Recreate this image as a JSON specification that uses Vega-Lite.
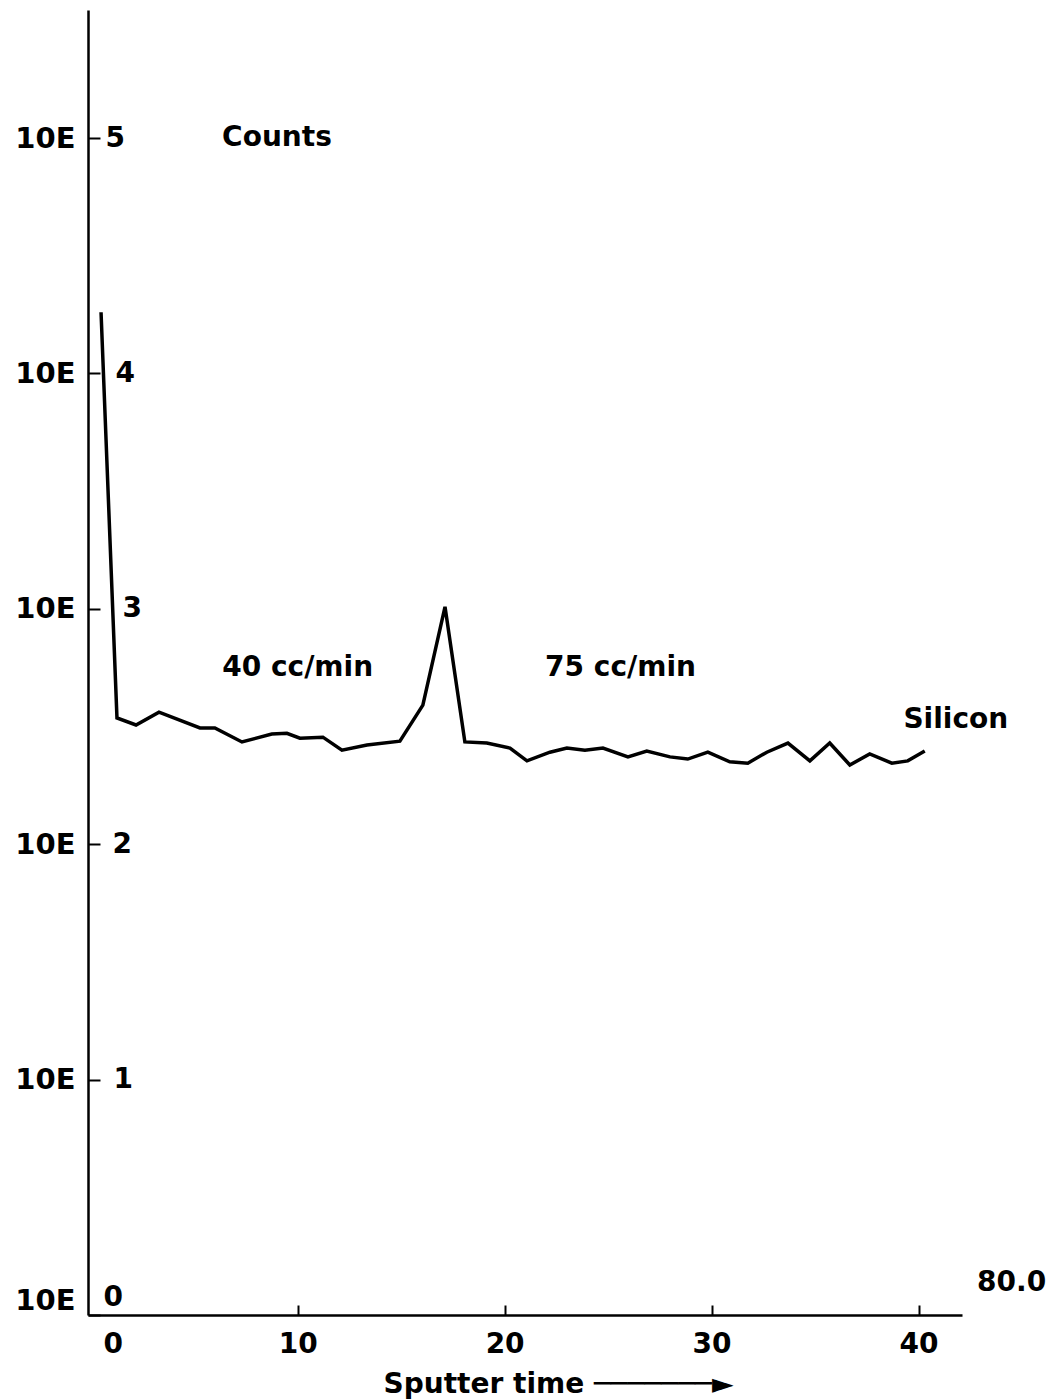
{
  "$schema": "https://vega.github.io/schema/vega-lite/v6.json",
  "autosize": {"type": "none"},
  "padding": {"left": 88, "top": 10, "right": 92, "bottom": 85},
  "width": 874,
  "height": 1305,
  "background": "white",
  "config": {
    "view": {"stroke": null},
    "font": "DejaVu Sans",
    "axis": {"grid": false, "labelColor": "black", "titleColor": "black", "labelFont": "DejaVu Sans", "titleFont": "DejaVu Sans", "labelFontWeight": "bold", "titleFontWeight": "bold"}
  },
  "datasets": {
    "silicon": [
      {"t": 0.5, "counts": 18200},
      {"t": 1.27, "counts": 344},
      {"t": 2.19, "counts": 321},
      {"t": 3.3, "counts": 364},
      {"t": 5.28, "counts": 312},
      {"t": 6.0, "counts": 312},
      {"t": 7.31, "counts": 272},
      {"t": 8.75, "counts": 294},
      {"t": 9.48, "counts": 296},
      {"t": 10.11, "counts": 282},
      {"t": 11.22, "counts": 285},
      {"t": 12.14, "counts": 251},
      {"t": 13.35, "counts": 264},
      {"t": 14.94, "counts": 274},
      {"t": 16.05, "counts": 390},
      {"t": 17.12, "counts": 1020},
      {"t": 18.08, "counts": 272},
      {"t": 19.14, "counts": 269},
      {"t": 20.26, "counts": 256},
      {"t": 21.08, "counts": 226},
      {"t": 22.19, "counts": 246},
      {"t": 23.01, "counts": 256},
      {"t": 23.88, "counts": 251},
      {"t": 24.75, "counts": 256},
      {"t": 25.96, "counts": 235},
      {"t": 26.87, "counts": 249},
      {"t": 27.99, "counts": 235},
      {"t": 28.85, "counts": 230},
      {"t": 29.82, "counts": 246},
      {"t": 30.88, "counts": 224},
      {"t": 31.75, "counts": 221},
      {"t": 32.67, "counts": 246},
      {"t": 33.69, "counts": 269},
      {"t": 34.75, "counts": 226},
      {"t": 35.71, "counts": 269},
      {"t": 36.68, "counts": 217},
      {"t": 37.64, "counts": 242},
      {"t": 38.71, "counts": 221},
      {"t": 39.48, "counts": 226},
      {"t": 40.3, "counts": 249}
    ],
    "notes": [
      {"t": 9.0, "counts": 100000, "label": "Counts"},
      {"t": 10.0, "counts": 561, "label": "40 cc/min"},
      {"t": 25.6, "counts": 561, "label": "75 cc/min"},
      {"t": 41.8, "counts": 337, "label": "Silicon"},
      {"t": 44.5, "counts": 1.37, "label": "80.0"}
    ]
  },
  "layer": [
    {
      "data": {"name": "silicon"},
      "mark": {"type": "line", "color": "black", "strokeWidth": 3.5, "strokeJoin": "miter"},
      "encoding": {
        "x": {
          "field": "t",
          "type": "quantitative",
          "scale": {"domain": [-0.13, 42.1], "nice": false, "zero": false},
          "axis": {
            "values": [0, 10, 20, 30, 40],
            "format": "d",
            "labelFlush": false,
            "domainColor": "black",
            "domainWidth": 2.5,
            "tickColor": "black",
            "tickWidth": 2,
            "tickSize": -10,
            "tickOpacity": {"condition": {"test": "datum.value === 0", "value": 0}, "value": 1},
            "labelFontSize": 28,
            "labelPadding": 25,
            "labelBaseline": "top",
            "labelOffset": {"condition": {"test": "datum.value === 0", "value": 22}, "value": 0},
            "title": "Sputter time ───────►",
            "titleFontSize": 28,
            "titleAlign": "center",
            "titleBaseline": "middle",
            "titleX": 470,
            "titleY": 69
          }
        },
        "y": {
          "field": "counts",
          "type": "quantitative",
          "scale": {"type": "log", "domain": [1, 350000], "nice": false},
          "axis": {
            "orient": "left",
            "values": [1, 10, 100, 1000, 10000, 100000],
            "labelExpr": "'10E'",
            "labelFlush": false,
            "ticks": false,
            "domain": true,
            "domainColor": "black",
            "domainWidth": 2.5,
            "labelPadding": 13,
            "labelFontSize": 29,
            "labelBaseline": "middle",
            "labelOffset": {"condition": {"test": "datum.value === 1", "value": -15}, "value": 0},
            "title": null
          }
        }
      }
    },
    {
      "data": {"name": "notes"},
      "mark": {"type": "text", "color": "black", "fontSize": 28, "fontWeight": "bold", "align": "center", "baseline": "middle", "font": "DejaVu Sans"},
      "encoding": {
        "x": {"field": "t", "type": "quantitative", "scale": {"domain": [-0.13, 42.1], "nice": false, "zero": false}},
        "y": {
          "field": "counts",
          "type": "quantitative",
          "scale": {"type": "log", "domain": [1, 350000], "nice": false},
          "axis": {
            "orient": "left",
            "values": [1, 10, 100, 1000, 10000, 100000],
            "labelExpr": "'' + round(log(datum.value) / LN10)",
            "labelFlush": false,
            "domain": false,
            "ticks": true,
            "tickSize": -12,
            "tickWidth": 2,
            "tickColor": "black",
            "labelAlign": "left",
            "labelBaseline": "middle",
            "labelPadding": {
              "condition": [
                {"test": "datum.value === 1000", "value": -22},
                {"test": "datum.value === 10000", "value": -15},
                {"test": "datum.value === 100", "value": -12},
                {"test": "datum.value === 10", "value": -13},
                {"test": "datum.value === 1", "value": -3}
              ],
              "value": -5
            },
            "labelFontSize": 28,
            "labelOffset": {"condition": {"test": "datum.value === 1", "value": -18}, "value": 0},
            "title": null
          }
        },
        "text": {"field": "label", "type": "nominal"}
      }
    }
  ],
  "resolve": {"axis": {"y": "independent"}}
}
